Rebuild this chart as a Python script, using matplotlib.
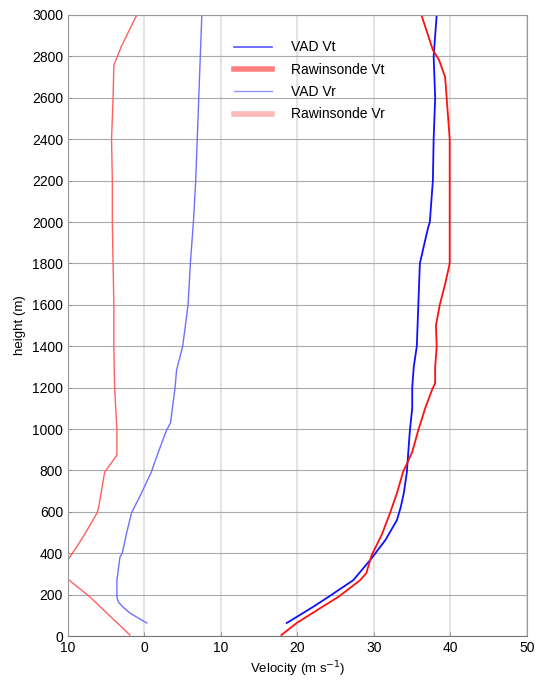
import matplotlib
matplotlib.use("Agg")
import matplotlib.pyplot as plt
from matplotlib.lines import Line2D

plt.rcParams['font.family'] = ['Liberation Sans', 'DejaVu Sans']

# VAD tangential velocity
vad_vt_h = [63, 140, 188, 270, 367, 464, 560, 623, 690, 792, 947, 995, 1100, 1200, 1300,
            1400, 1600, 1800, 1913, 1976, 2000, 2200, 2400, 2600, 2800, 3000]
vad_vt = [18.6, 22.0, 24.0, 27.3, 29.5, 31.5, 33.0, 33.5, 33.9, 34.3, 34.6, 34.7, 35.0, 35.0, 35.2,
          35.6, 35.8, 36.0, 36.7, 37.1, 37.3, 37.7, 37.8, 38.0, 37.8, 38.2]

# Rawinsonde tangential velocity
raw_vt_h = [5, 63, 140, 188, 270, 304, 391, 488, 594, 690, 792, 889, 995, 1101, 1190, 1222,
            1300, 1400, 1500, 1600, 1700, 1800, 2000, 2200, 2400, 2600, 2700, 2783, 2831, 3000]
raw_vt = [17.9, 19.9, 23.2, 25.3, 28.2, 29.0, 29.7, 31.0, 32.1, 33.0, 33.8, 35.0, 35.8, 36.7, 37.6, 38.0,
          38.0, 38.2, 38.1, 38.6, 39.3, 39.9, 39.9, 39.9, 39.9, 39.5, 39.3, 38.5, 37.7, 36.2]

# VAD radial velocity
vad_vr_h = [63, 111, 140, 164, 188, 270, 382, 400, 502, 594, 690, 792, 836, 947, 995, 1029,
            1200, 1285, 1400, 1600, 1800, 2000, 2200, 2400, 2600, 2800, 3000]
vad_vr = [0.3, -1.9, -2.8, -3.4, -3.6, -3.6, -3.2, -2.9, -2.3, -1.7, -0.4, 0.9, 1.3, 2.4, 2.9, 3.4,
          4.0, 4.2, 5.0, 5.7, 6.0, 6.4, 6.7, 6.9, 7.1, 7.3, 7.5]

# Rawinsonde radial velocity
raw_vr_h = [5, 188, 275, 320, 367, 480, 594, 620, 792, 874, 995, 1200, 1400, 1600, 1800,
            2000, 2200, 2400, 2600, 2758, 2850, 3000]
raw_vr = [-1.9, -7.1, -10.0, -11.0, -10.0, -8.0, -6.2, -6.0, -5.2, -3.6, -3.6, -3.9, -4.0, -4.0, -4.1,
          -4.2, -4.2, -4.3, -4.1, -4.0, -3.0, -1.0]

xticks = [-10, 0, 10, 20, 30, 40, 50]
xtick_labels = ['10', '0', '10', '20', '30', '40', '50']
yticks = list(range(0, 3001, 200))

fig = plt.figure(figsize=(5.35, 6.81), dpi=100)
ax = fig.add_axes([0.127, 0.066, 0.858, 0.912])

ax.plot(vad_vt, vad_vt_h, color='#1010ff', lw=1.3)
ax.plot(raw_vt, raw_vt_h, color='#ff1010', lw=1.3)
ax.plot(vad_vr, vad_vr_h, color='#7070ff', lw=1.0)
ax.plot(raw_vr, raw_vr_h, color='#ff6060', lw=1.0)

ax.set_xlim(-10, 50)
ax.set_ylim(0, 3000)
ax.set_xticks(xticks)
ax.set_xticklabels(xtick_labels)
ax.set_yticks(yticks)
ax.tick_params(labelsize=10, length=3, width=0.6, color='#888888', direction='in')

ax.grid(axis='y', color='#aaaaaa', lw=0.8)
ax.grid(axis='x', color='#e4e4e4', lw=1.5)
ax.set_axisbelow(True)
for s in ax.spines.values():
    s.set_color('#999999')
    s.set_linewidth(0.8)
ax.spines['bottom'].set_color('#777777')

ax.set_xlabel('Velocity (m s$^{-1}$)', fontsize=9.5, labelpad=3)
ax.set_ylabel('height (m)', fontsize=9.5, labelpad=4)

handles = [
    Line2D([], [], color='#5555ff', lw=1.2),
    Line2D([], [], color='#ff7f7f', lw=4),
    Line2D([], [], color='#9090ff', lw=1.0),
    Line2D([], [], color='#ffbaba', lw=4),
]
labels = ['VAD Vt', 'Rawinsonde Vt', 'VAD Vr', 'Rawinsonde Vr']
ax.legend(handles, labels, loc='upper left', bbox_to_anchor=(0.35, 0.968),
          frameon=False, fontsize=10, handlelength=2.7, handletextpad=1.4,
          labelspacing=0.6, borderaxespad=0)

fig.savefig('out.png', dpi=100)
